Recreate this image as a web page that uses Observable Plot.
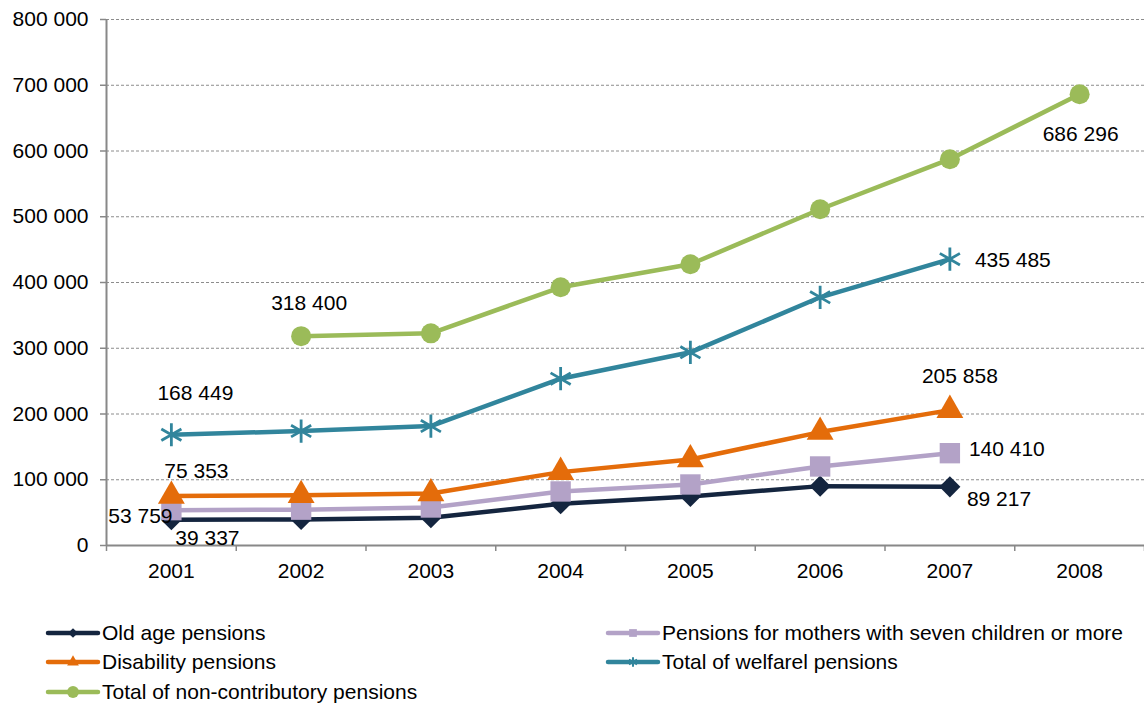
<!DOCTYPE html>
<html>
<head>
<meta charset="utf-8">
<script src="https://cdn.jsdelivr.net/npm/d3@7"></script>
<script src="https://cdn.jsdelivr.net/npm/@observablehq/plot@0.6"></script>
<style>
  html, body { margin: 0; padding: 0; background: #fff; }
  body { width: 1144px; height: 704px; overflow: hidden; font-family: "Liberation Sans", Arial, sans-serif; }
  #legend { position: relative; height: 100px; font-size: 21px; color: #000; }
  .item { position: absolute; display: flex; align-items: center; height: 28px; }
  .item svg { display: block; margin-right: 1px; }
</style>
</head>
<body>
<div id="chart"></div>
<div id="legend"></div>
<script>
// Number of pensions by type, 2001–2008
const years = [2001, 2002, 2003, 2004, 2005, 2006, 2007, 2008];
const oldAge = [39337, 39700, 42200, 63400, 74600, 90300, 89217, null];
const mothers = [53759, 54500, 57800, 82200, 92800, 120200, 140410, null];
const disability = [75353, 76500, 79000, 111600, 130900, 172500, 205858, null];
const welfare = [168449, 174000, 181600, 253700, 293800, 377500, 435485, null];
const nonContributory = [null, 318400, 322700, 392700, 427700, 511400, 587500, 686296];
const seriesNames = [
  "Old age pensions",
  "Pensions for mothers with seven children or more",
  "Disability pensions",
  "Total of welfarel pensions",
  "Total of non-contributory pensions"
];
const yTicks = [0, 100000, 200000, 300000, 400000, 500000, 600000, 700000, 800000];

const fmt = v => d3.format(",")(v).replace(/,/g, " ");
const FONT = 21;

const series = [
  {name: seriesNames[0], values: oldAge, color: "#14253f", symbol: "diamond2", r: 9.5, fill: true},
  {name: seriesNames[1], values: mothers, color: "#b3a2c7", symbol: "square", r: 11.5, fill: true},
  {name: seriesNames[2], values: disability, color: "#e46c0a", symbol: "triangle", r: 10, fill: true},
  {name: seriesNames[3], values: welfare, color: "#31859c", symbol: "asterisk", r: 11, fill: false},
  {name: seriesNames[4], values: nonContributory, color: "#9bbb59", symbol: "circle", r: 10, fill: true}
];
const rows = s => years.map((year, i) => ({year, value: s.values[i]})).filter(d => d.value != null);

// value labels: which point, and where the text sits relative to it
const labels = [
  {s: 3, year: 2001, dx: 24, dy: -41, anchor: "middle"},
  {s: 4, year: 2002, dx: 8, dy: -33, anchor: "middle"},
  {s: 2, year: 2001, dx: 25, dy: -25, anchor: "middle"},
  {s: 1, year: 2001, dx: -31, dy: 6, anchor: "middle"},
  {s: 0, year: 2001, dx: 36, dy: 19, anchor: "middle"},
  {s: 2, year: 2007, dx: 10, dy: -34, anchor: "middle"},
  {s: 1, year: 2007, dx: 19, dy: -4, anchor: "start"},
  {s: 0, year: 2007, dx: 17, dy: 12, anchor: "start"},
  {s: 3, year: 2007, dx: 25, dy: 1, anchor: "start"},
  {s: 4, year: 2008, dx: 1, dy: 40, anchor: "middle"}
].map(l => ({...l, value: series[l.s].values[years.indexOf(l.year)]}));

const marks = [
  Plot.gridY(yTicks.filter(v => v > 0), {stroke: "#8c8c8c", strokeOpacity: 1, strokeDasharray: "3,2", strokeWidth: 1}),
  Plot.axisY(yTicks, {label: null, tickSize: 6, tickPadding: 12, tickFormat: fmt, stroke: "#888", strokeWidth: 1.5, fontSize: FONT}),
  Plot.axisX(years, {label: null, tickSize: 0, tickPadding: 18, tickFormat: d => String(d), fontSize: FONT}),
  Plot.axisX(years.map(y => y - 0.5).concat([years[years.length - 1] + 0.5]), {label: null, tickSize: 6, tickFormat: () => "", stroke: "#888", strokeWidth: 1.5}),
  Plot.ruleX([years[0] - 0.5], {stroke: "#888", strokeWidth: 2}),
  Plot.ruleY([0], {stroke: "#888", strokeWidth: 2})
];
for (const s of series) {
  marks.push(Plot.line(rows(s), {x: "year", y: "value", stroke: s.color, strokeWidth: 4.5}));
}
for (const s of series) {
  marks.push(Plot.dot(rows(s), {
    x: "year", y: "value", symbol: () => s.symbol, r: s.r,
    fill: s.fill ? s.color : "none", stroke: s.color, strokeWidth: s.fill ? 0 : 2.8
  }));
}
for (const l of labels) {
  marks.push(Plot.text([l], {x: "year", y: "value", text: d => fmt(d.value), dx: l.dx, dy: l.dy, textAnchor: l.anchor, fill: "#000", fontSize: FONT}));
}

const chart = Plot.plot({
  width: 1144,
  height: 604,
  marginTop: 19,
  marginBottom: 59,
  marginLeft: 106,
  marginRight: 0,
  style: {fontFamily: "'Liberation Sans', Arial, sans-serif", fontSize: FONT + "px", color: "#000", background: "#fff"},
  x: {domain: [years[0] - 0.5, years[years.length - 1] + 0.5], axis: null},
  y: {domain: [0, 800000], axis: null},
  marks
});
document.getElementById("chart").appendChild(chart);

// legend below the chart
const legendPos = [
  {left: 45, top: 15}, {left: 605, top: 15},
  {left: 45, top: 44}, {left: 605, top: 44},
  {left: 45, top: 74}
];
const legend = d3.select("#legend");
series.forEach((s, i) => {
  const item = legend.append("div").attr("class", "item")
    .style("left", legendPos[i].left + "px").style("top", legendPos[i].top + "px");
  const svg = item.append("svg").attr("width", 56).attr("height", 20);
  svg.append("line").attr("x1", 3).attr("x2", 53).attr("y1", 10).attr("y2", 10)
    .attr("stroke", s.color).attr("stroke-width", 4.5).attr("stroke-linecap", "round");
  const sym = {diamond2: d3.symbolDiamond2, square: d3.symbolSquare, triangle: d3.symbolTriangle, asterisk: d3.symbolAsterisk, circle: d3.symbolCircle}[s.symbol];
  const size = s.symbol === "circle" ? 110 : 60;
  svg.append("path").attr("d", d3.symbol(sym, size)()).attr("transform", "translate(28,10)")
    .attr("fill", s.fill ? s.color : "none").attr("stroke", s.color).attr("stroke-width", s.fill ? 0 : 2);
  item.append("span").text(s.name);
});
</script>
</body>
</html>
